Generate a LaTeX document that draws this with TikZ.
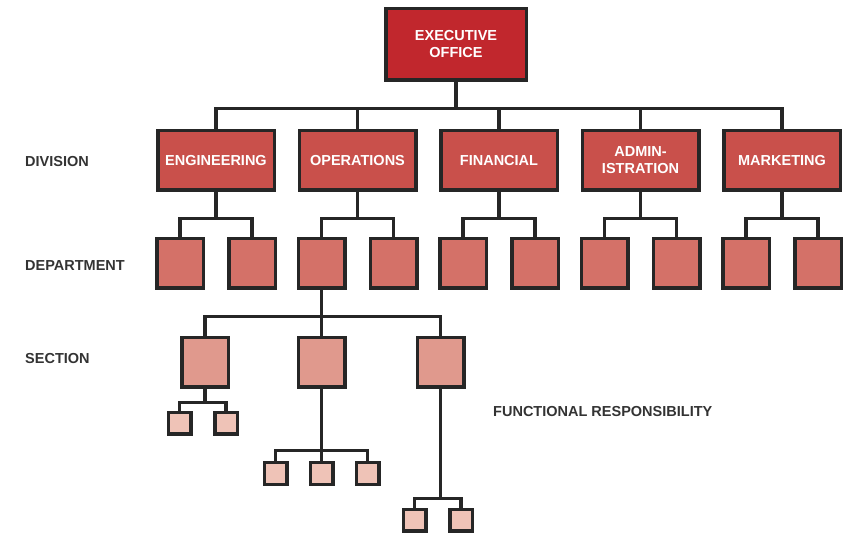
\documentclass[tikz,border=0pt]{standalone}
\usepackage{fontspec}
\setmainfont{Liberation Sans}
\usepackage{tikz}
\usetikzlibrary{positioning}
\definecolor{execred}{HTML}{C1272D}
\definecolor{divred}{HTML}{C9504B}
\definecolor{deptred}{HTML}{D47168}
\definecolor{secred}{HTML}{E0998D}
\definecolor{funcred}{HTML}{EFC3B7}
\definecolor{labelgray}{HTML}{333333}
\tikzset{
  unit/.style={draw=black!85, line width=3.5pt, inner sep=0pt, align=center,
    text=white, font=\fontsize{14.5}{17}\selectfont\bfseries},
  execbox/.style={unit, fill=execred, minimum width=140.5pt, minimum height=71.5pt},
  divbox/.style={unit, fill=divred, minimum width=116.5pt, minimum height=59.5pt},
  deptbox/.style={unit, fill=deptred, minimum width=46.5pt, minimum height=49.5pt},
  secbox/.style={unit, fill=secred, minimum width=46.5pt, minimum height=49.5pt},
  funcbox/.style={unit, fill=funcred, minimum width=22.5pt, minimum height=21.5pt},
  link/.style={draw=black!85, line width=3.3pt},
  levellabel/.style={anchor=west, inner sep=0pt, text=labelgray,
    font=\fontsize{14.5}{17}\selectfont\bfseries}
}
\begin{document}
\begin{tikzpicture}[x=1pt,y=-1pt]
	\useasboundingbox (0,0) rectangle (849,534);
	% top
	\node[execbox] (exec) at (456,44.5) {EXECUTIVE\\OFFICE};
	% divisions
	\node[divbox] (eng) at (216,160.5) {ENGINEERING};
	\node[divbox] (ops) at (357.5,160.5) {OPERATIONS};
	\node[divbox] (fin) at (499,160.5) {FINANCIAL};
	\node[divbox] (adm) at (640.5,160.5) {ADMIN-\\ISTRATION};
	\node[divbox] (mkt) at (782,160.5) {MARKETING};
	% departments
	\node[deptbox] (eng1) at (180,263.5) {};
	\node[deptbox] (eng2) at (252,263.5) {};
	\node[deptbox] (ops1) at (321.5,263.5) {};
	\node[deptbox] (ops2) at (393.5,263.5) {};
	\node[deptbox] (fin1) at (463,263.5) {};
	\node[deptbox] (fin2) at (535,263.5) {};
	\node[deptbox] (adm1) at (604.5,263.5) {};
	\node[deptbox] (adm2) at (676.5,263.5) {};
	\node[deptbox] (mkt1) at (746,263.5) {};
	\node[deptbox] (mkt2) at (818,263.5) {};
	% sections
	\node[secbox] (sec1) at (205,362.5) {};
	\node[secbox] (sec2) at (321.5,362.5) {};
	\node[secbox] (sec3) at (440.5,362.5) {};
	% functional responsibility
	\node[funcbox] (fa1) at (179.5,423.5) {};
	\node[funcbox] (fa2) at (226,423.5) {};
	\node[funcbox] (fb1) at (275.5,473.5) {};
	\node[funcbox] (fb2) at (321.5,473.5) {};
	\node[funcbox] (fb3) at (367.5,473.5) {};
	\node[funcbox] (fc1) at (414.5,520) {};
	\node[funcbox] (fc2) at (461,520) {};
	% level labels
	\node[levellabel] (lbldiv) at (25,162) {DIVISION};
	\node[levellabel] (lbldept) at (25,265.5) {DEPARTMENT};
	\node[levellabel] (lblsec) at (25,359) {SECTION};
	\node[levellabel] (lblfunc) at (493,412) {FUNCTIONAL RESPONSIBILITY};
	% links
	\draw[link] (exec.south) -- ++(0,26.5) -| (eng.north)
		(exec.south) ++(0,26.5) -| (ops.north)
		(exec.south) ++(0,26.5) -| (fin.north)
		(exec.south) ++(0,26.5) -| (adm.north)
		(exec.south) ++(0,26.5) -| (mkt.north);
	%
	\draw[link] (eng.south) -- ++(0,26.5) -| (eng1.north) (eng.south) ++(0,26.5) -| (eng2.north);
	\draw[link] (ops.south) -- ++(0,26.5) -| (ops1.north) (ops.south) ++(0,26.5) -| (ops2.north);
	\draw[link] (fin.south) -- ++(0,26.5) -| (fin1.north) (fin.south) ++(0,26.5) -| (fin2.north);
	\draw[link] (adm.south) -- ++(0,26.5) -| (adm1.north) (adm.south) ++(0,26.5) -| (adm2.north);
	\draw[link] (mkt.south) -- ++(0,26.5) -| (mkt1.north) (mkt.south) ++(0,26.5) -| (mkt2.north);
	%
	\draw[link] (ops1.south) -- (sec2.north)
		(ops1.south) ++(0,26.5) -| (sec1.north)
		(ops1.south) ++(0,26.5) -| (sec3.north);
	%
	\draw[link] (sec1.south) -- ++(0,13.5) -| (fa1.north) (sec1.south) ++(0,13.5) -| (fa2.north);
	\draw[link] (sec2.south) -- (fb2.north)
		(sec2.south) ++(0,61.5) -| (fb1.north)
		(sec2.south) ++(0,61.5) -| (fb3.north);
	\draw[link] (sec3.south) -- ++(0,109.5) -| (fc1.north) (sec3.south) ++(0,109.5) -| (fc2.north);
\end{tikzpicture}
\end{document}
